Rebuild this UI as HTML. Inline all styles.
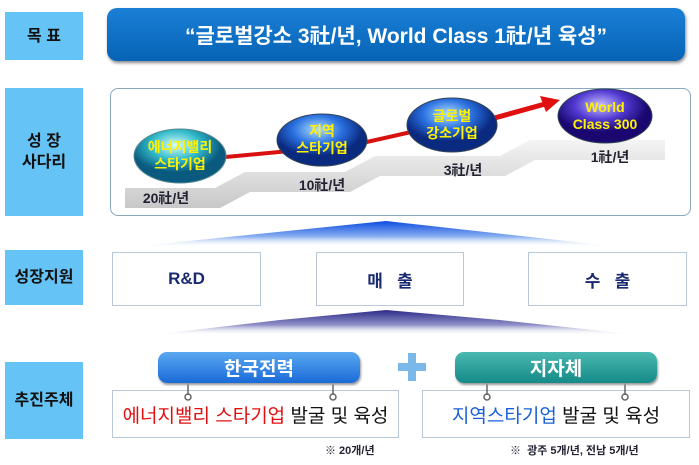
<!DOCTYPE html>
<html><head><meta charset="utf-8"><style>
body{margin:0;width:699px;height:465px;background:#fff;position:relative;overflow:hidden;font-family:"Liberation Sans","Noto Sans CJK KR",sans-serif}
.lab{position:absolute;left:5px;width:78px;background:#66c3f5;display:flex;align-items:center;justify-content:center;text-align:center;font-weight:bold;font-size:16px;color:#111;line-height:21px}
.box{position:absolute;border:1.5px solid #b8c8d8;background:#fff;display:flex;align-items:center;justify-content:center;font-weight:bold}
.pill{position:absolute;border-radius:9px;color:#fff;font-weight:bold;font-size:19px;display:flex;align-items:center;justify-content:center;box-shadow:1px 2px 2px #999}
</style></head><body>
<div class="lab" style="top:12px;height:48px">목 표</div>
<div class="lab" style="top:88px;height:128px">성 장<br>사다리</div>
<div class="lab" style="top:250px;height:55px">성장지원</div>
<div class="lab" style="top:362px;height:77px">추진주체</div>

<div style="position:absolute;left:107px;top:8px;width:578px;height:53px;border-radius:10px;background:linear-gradient(#1a7fd6,#0663b5);box-shadow:1px 2px 3px #888;color:#fff;font-size:21px;font-weight:bold;display:flex;align-items:center;justify-content:center">“글로벌강소 3社/년, World Class 1社/년 육성”</div>

<div style="position:absolute;left:110px;top:88px;width:579px;height:126px;border:1.5px solid #8aa8c0;border-radius:8px;background:#fff"></div>
<svg style="position:absolute;left:0;top:0" width="699" height="465">
<defs>
<radialGradient id="g1" cx="45%" cy="30%"><stop offset="0" stop-color="#d8ffff"/><stop offset=".55" stop-color="#30b8c8"/><stop offset="1" stop-color="#0a5a80"/></radialGradient>
<radialGradient id="g2" cx="45%" cy="30%"><stop offset="0" stop-color="#b0e0ff"/><stop offset=".55" stop-color="#2a70e0"/><stop offset="1" stop-color="#0a2a80"/></radialGradient>
<radialGradient id="g3" cx="45%" cy="30%"><stop offset="0" stop-color="#c8c0ff"/><stop offset=".55" stop-color="#5038d0"/><stop offset="1" stop-color="#1a0870"/></radialGradient>
<linearGradient id="st" x1="0" y1="0" x2="0" y2="1"><stop offset="0" stop-color="#f4f4f4"/><stop offset="1" stop-color="#c8c8c8"/></linearGradient>
<linearGradient id="f1" x1="0" y1="0" x2="0" y2="1"><stop offset="0" stop-color="#0a4ae0"/><stop offset=".6" stop-color="#8ab0f0"/><stop offset="1" stop-color="#fff" stop-opacity="0"/></linearGradient>
<linearGradient id="f2" x1="0" y1="0" x2="0" y2="1"><stop offset="0" stop-color="#2a2a88"/><stop offset=".6" stop-color="#9090c8"/><stop offset="1" stop-color="#fff" stop-opacity="0"/></linearGradient>
</defs>
<path d="M125 188 L215 188 L245 172 L345 172 L375 156 L500 156 L530 140 L665 140 L665 160 L535 160 L505 176 L380 176 L350 192 L250 192 L220 208 L125 208Z" fill="url(#st)"/>
<path d="M215 158 L300 150 M340 148 L420 130" stroke="#d81010" stroke-width="4"/>
<path d="M480 122 L545 104" stroke="#e01010" stroke-width="5"/>
<polygon points="540,96 560,100 546,112" fill="#e01010"/>
<ellipse cx="180" cy="156" rx="46" ry="27" fill="url(#g1)" stroke="#5a8a90"/>
<ellipse cx="322" cy="140" rx="45" ry="26" fill="url(#g2)" stroke="#345"/>
<ellipse cx="452" cy="125" rx="45" ry="27" fill="url(#g2)" stroke="#345"/>
<ellipse cx="605" cy="116" rx="47" ry="27" fill="url(#g3)" stroke="#345"/>
<g font-weight="bold" font-size="14" fill="#fff200" text-anchor="middle">
<text x="180" y="152">에너지밸리</text><text x="180" y="169">스타기업</text>
<text x="322" y="136">지역</text><text x="322" y="153">스타기업</text>
<text x="452" y="121">글로벌</text><text x="452" y="138">강소기업</text>
<text x="605" y="112">World</text><text x="605" y="129">Class 300</text>
</g>
<g font-weight="bold" font-size="14" fill="#223" text-anchor="middle">
<text x="166" y="203">20社/년</text><text x="322" y="190">10社/년</text><text x="463" y="175">3社/년</text><text x="610" y="162">1社/년</text>
</g>
<polygon points="386,221 620,247 130,247" fill="url(#f1)"/>
<polygon points="386,310 500,320 640,335 150,335 280,320" fill="url(#f2)"/>
<rect x="398" y="363" width="28" height="8" fill="#7ab8ea"/><rect x="408" y="353" width="8" height="28" fill="#7ab8ea"/>
<g stroke="#666" stroke-width="1.5" fill="none">
<path d="M188 376 L188 395"/><circle cx="188" cy="397" r="3"/><path d="M333 376 L333 395"/><circle cx="333" cy="397" r="3"/>
<path d="M487 376 L487 395"/><circle cx="487" cy="397" r="3"/><path d="M625 376 L625 395"/><circle cx="625" cy="397" r="3"/>
</g>
</svg>

<div class="box" style="left:112px;top:252px;width:147px;height:52px;font-size:17px;color:#1a2a70">R&amp;D</div>
<div class="box" style="left:316px;top:252px;width:146px;height:52px;font-size:17px;color:#1a2a70">매 &nbsp; 출</div>
<div class="box" style="left:528px;top:252px;width:157px;height:52px;font-size:17px;color:#1a2a70">수 &nbsp; 출</div>

<div class="pill" style="left:158px;top:352px;width:202px;height:31px;background:linear-gradient(#5aa8f0,#1a6ad8)">한국전력</div>
<div class="pill" style="left:455px;top:352px;width:202px;height:31px;background:linear-gradient(#4ab8b0,#158a88)">지자체</div>
<div class="box" style="left:112px;top:390px;width:285px;height:46px;font-size:19px;font-weight:normal;color:#111;z-index:-1"><span style="color:#e01010">에너지밸리 스타기업</span>&nbsp;발굴 및 육성</div>
<div class="box" style="left:422px;top:390px;width:266px;height:46px;font-size:19px;font-weight:normal;color:#111;z-index:-1"><span style="color:#1a60d8">지역스타기업</span>&nbsp;발굴 및 육성</div>
<div style="position:absolute;left:325px;top:442px;font-size:11px;font-weight:bold;color:#223">※ 20개/년</div>
<div style="position:absolute;left:510px;top:442px;font-size:11px;font-weight:bold;color:#223">※ &nbsp;광주 5개/년, 전남 5개/년</div>
</body></html>
